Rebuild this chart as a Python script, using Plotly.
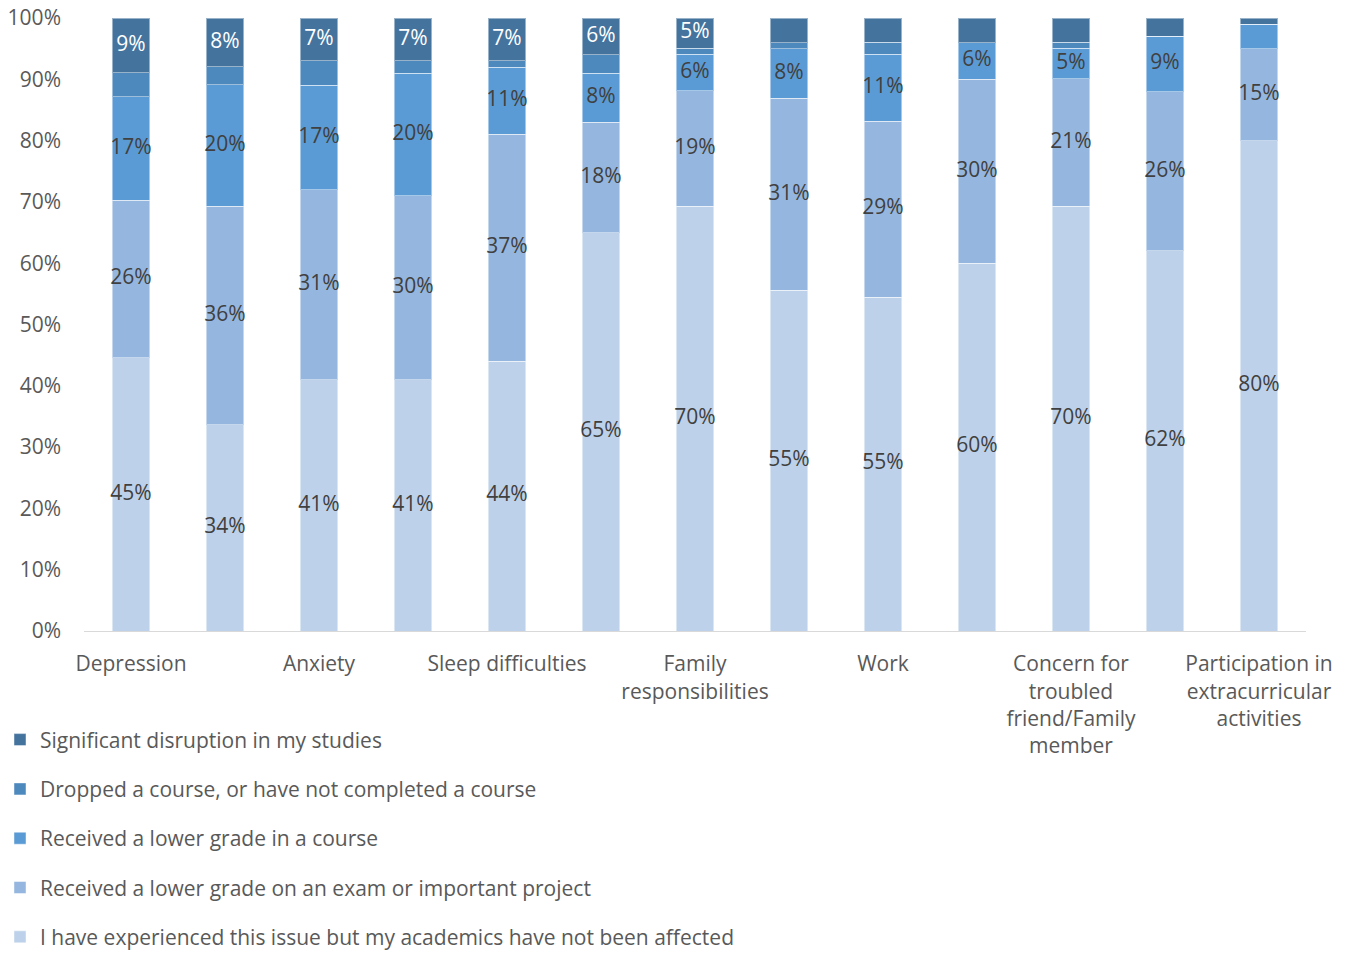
import plotly.graph_objects as go

# Issues (13 bars); only every other bar carries an axis label
tick_positions = [0, 2, 4, 6, 8, 10, 12]
tick_labels = [
    "Depression",
    "Anxiety",
    "Sleep difficulties",
    "Family<br>responsibilities",
    "Work",
    "Concern for<br>troubled<br>friend/Family<br>member",
    "Participation in<br>extracurricular<br>activities",
]

# Percent of respondents per impact level, bottom to top of each stack
not_affected = [45, 34, 41, 41, 44, 65, 70, 55, 55, 60, 70, 62, 80]
lower_exam = [26, 36, 31, 30, 37, 18, 19, 31, 29, 30, 21, 26, 15]
lower_course = [17, 20, 17, 20, 11, 8, 6, 8, 11, 6, 5, 9, 4]
dropped = [4, 3, 4, 2, 1, 3, 1, 1, 2, 0, 1, 0, 0]
disruption = [9, 8, 7, 7, 7, 6, 5, 4, 4, 4, 4, 3, 1]

series = [
    ("I have experienced this issue but my academics have not been affected", not_affected, "#BDD2EA", "#404040"),
    ("Received a lower grade on an exam or important project", lower_exam, "#95B7DF", "#404040"),
    ("Received a lower grade in a course", lower_course, "#5B9BD5", "#404040"),
    ("Dropped a course, or have not completed a course", dropped, "#4E89BE", "#FFFFFF"),
    ("Significant disruption in my studies", disruption, "#44739E", "#FFFFFF"),
]

n = len(not_affected)
x = list(range(n))
totals = [sum(s[1][i] for s in series) for i in range(n)]

FONT = "Open Sans"
FS = 21
fig = go.Figure()

base = [0.0] * n
label_x, label_y, label_t, label_c = [], [], [], []
for k, (name, vals, color, tcolor) in enumerate(series):
    share = [v / t * 100 for v, t in zip(vals, totals)]
    fig.add_trace(go.Bar(
        x=x, y=share, name=name, legendgroup=name,
        legendrank=len(series) - k,
        marker=dict(color=color, line=dict(color="rgba(255,255,255,0.45)", width=1)),
        hoverinfo="skip",
    ))
    for i in range(n):
        if vals[i] >= 5:
            label_x.append(i)
            label_y.append(base[i] + share[i] / 2)
            label_t.append(f"{vals[i]}%")
            label_c.append(tcolor)
    base = [b + s for b, s in zip(base, share)]

# Value labels centred in each segment
fig.add_trace(go.Scatter(
    x=label_x, y=label_y, text=label_t, mode="text",
    textfont=dict(family=FONT, size=FS, color=label_c),
    showlegend=False, hoverinfo="skip", cliponaxis=False,
))

fig.update_layout(
    width=1347, height=958,
    barmode="stack", bargap=0.6,
    plot_bgcolor="white", paper_bgcolor="white",
    margin=dict(l=84, r=41, t=18, b=327, autoexpand=False),
    font=dict(family=FONT, size=FS, color="#595959"),
    legend=dict(
        traceorder="grouped",
        xref="container", yref="container",
        x=0.0, y=0.249, xanchor="left", yanchor="top",
        font=dict(family=FONT, size=FS, color="#595959"),
        tracegroupgap=19,
        itemwidth=30,
    ),
    xaxis=dict(
        range=[-0.5, n - 0.5],
        tickmode="array", tickvals=tick_positions, ticktext=tick_labels,
        tickangle=0,
        showline=True, linecolor="#D9D9D9", linewidth=1,
        showgrid=False, zeroline=False, ticks="",
        ticklabelstandoff=14,
        tickfont=dict(family=FONT, size=FS, color="#595959"),
    ),
    yaxis=dict(
        range=[0, 100],
        tickvals=list(range(0, 101, 10)),
        ticktext=[f"{v}%" for v in range(0, 101, 10)],
        showgrid=False, zeroline=False, showline=False, ticks="",
        ticklabelstandoff=22,
        tickfont=dict(family=FONT, size=FS, color="#595959"),
    ),
)

fig.write_html("out.html")
